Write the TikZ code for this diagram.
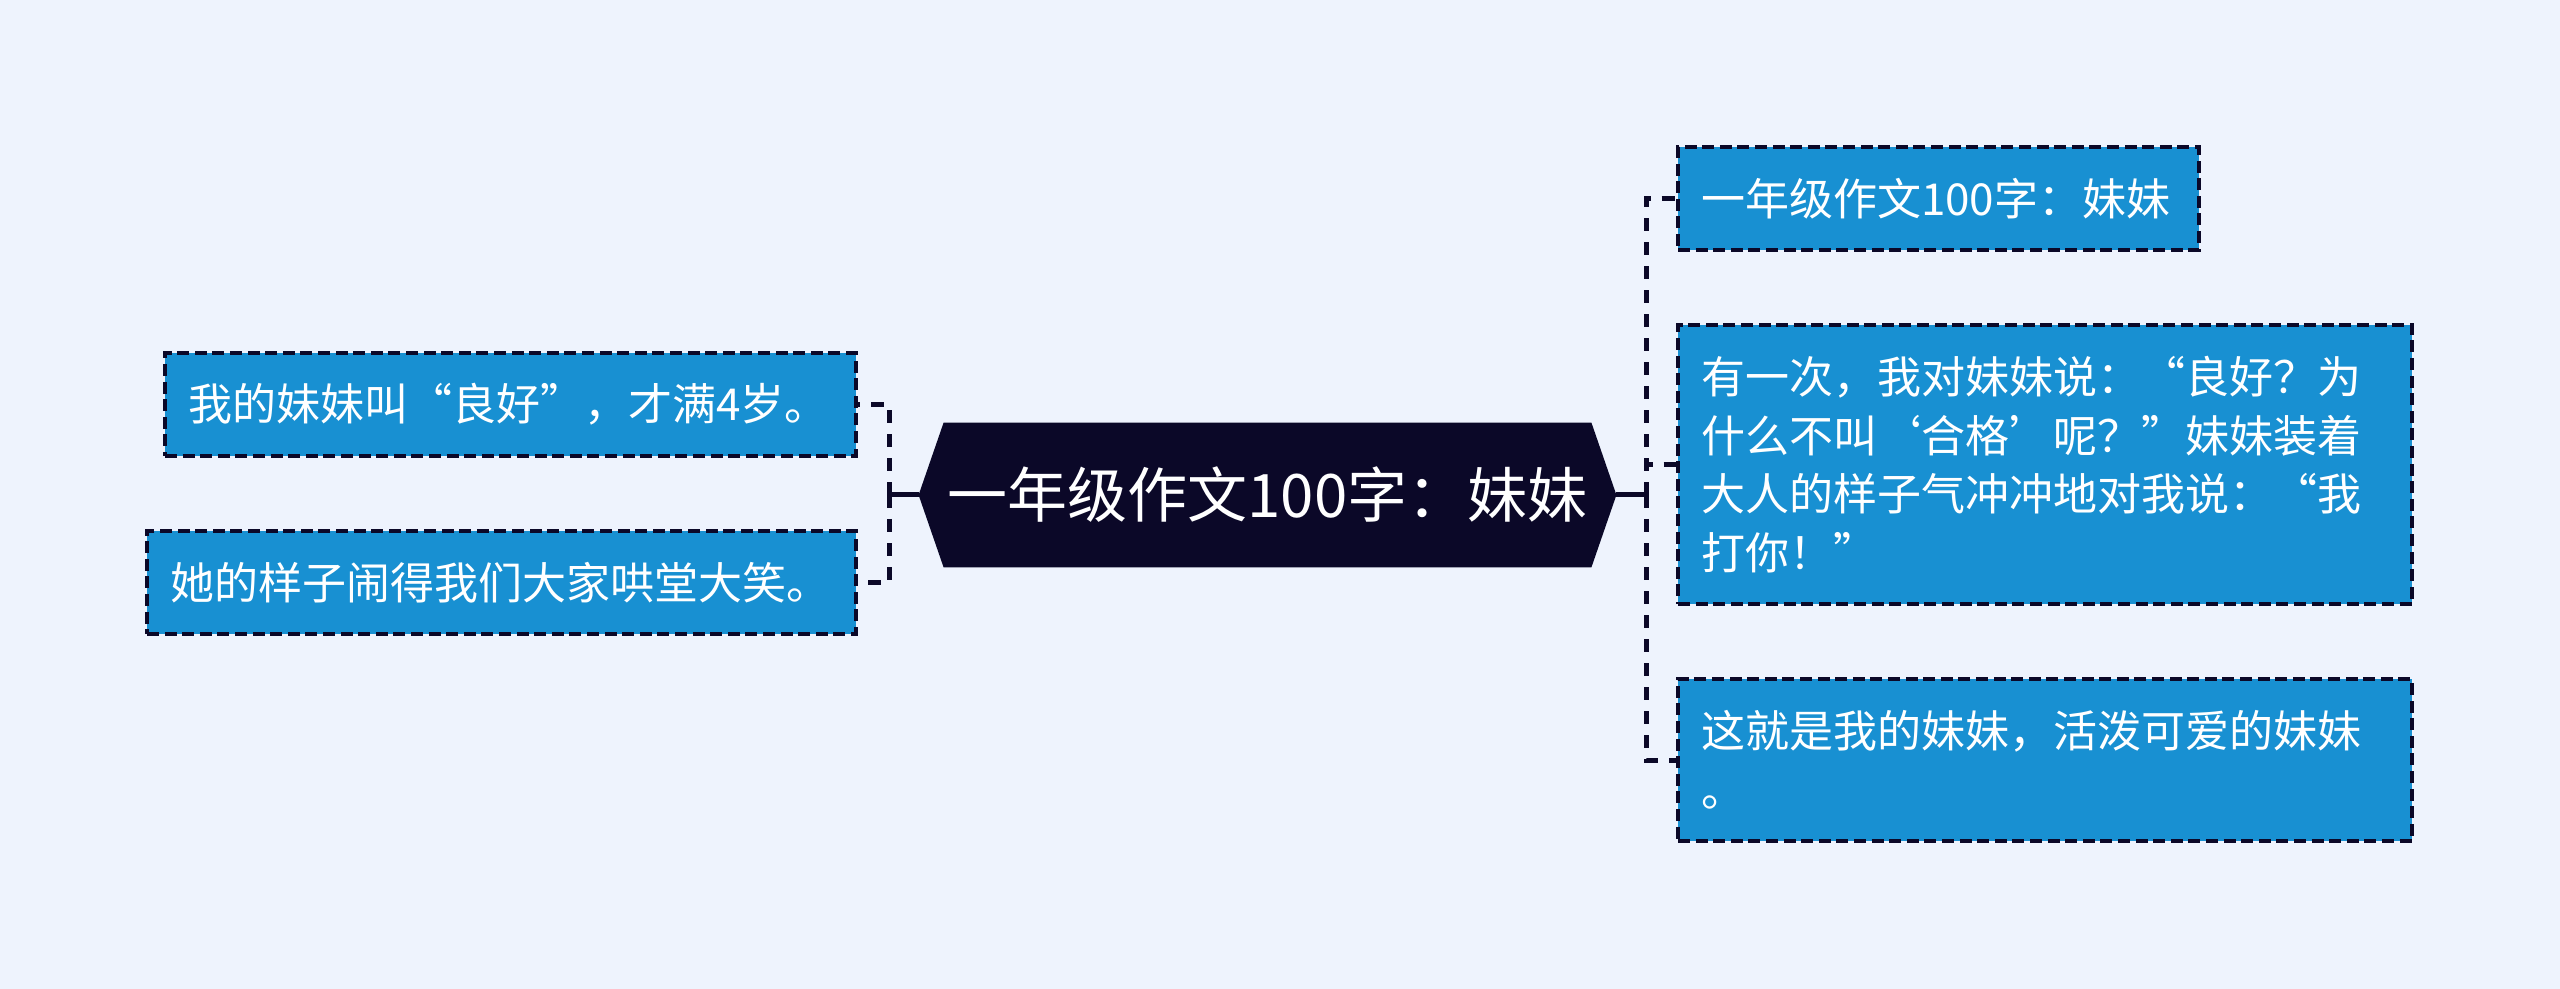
\documentclass[tikz,border=0pt]{standalone}
\usepackage{fontspec}
\setmainfont{Noto Sans CJK SC}
\usetikzlibrary{backgrounds}
\definecolor{bgc}{RGB}{238,243,253}
\definecolor{boxc}{RGB}{24,144,210}
\definecolor{navy}{RGB}{11,8,40}
\begin{document}
\begin{tikzpicture}[x=0.5pt,y=-0.5pt,
  leaf/.style={rectangle, fill=boxc, draw=navy, line width=1.7pt, dash pattern=on 6pt off 2.8pt,
    text=white, font=\fontsize{22}{29.35}\selectfont, align=left, inner xsep=11.5pt, inner ysep=0pt, anchor=center},
  conn/.style={draw=navy, line width=2.5pt, dash pattern=on 6.5pt off 5.5pt},
  solidc/.style={draw=navy, line width=2.5pt},
  centre/.style={rectangle, text=white, font=\fontsize{30}{36}\selectfont,
    minimum width=348.5pt, minimum height=72pt, inner sep=0pt},
  hexfill/.style={fill=navy}]
\useasboundingbox (0,0) rectangle (2560,989);

\node[centre] (c) at (1267.5,495) {一年级作文100字：妹妹};

\node[leaf, text width=322.5pt, minimum height=51.5pt] (l1) at (510.5,404.5) {我的妹妹叫“良好”，才满4岁。};
\node[leaf, text width=331.5pt, minimum height=51.5pt] (l2) at (501.5,582.5) {她的样子闹得我们大家哄堂大笑。};

\node[leaf, text width=237.5pt, minimum height=51.5pt] (r1) at (1938.5,198.5) {一年级作文100字：妹妹};
\node[leaf, text width=344pt, minimum height=139.5pt] (r2) at (2045,464.5) {有一次，我对妹妹说：“良好？为\\什么不叫‘合格’呢？”妹妹装着\\大人的样子气冲冲地对我说：“我\\打你！”};
\node[leaf, text width=344pt, minimum height=81pt] (r3) at (2045,760) {这就是我的妹妹，活泼可爱的妹妹\\。};

\coordinate (hl) at (889,495);
\coordinate (hr) at (1646,495);

\draw[solidc] (c.west) -- (hl);
\draw[conn] (hl) |- (l1.east);
\draw[conn] (hl) |- (l2.east);
\draw[solidc] (c.east) -- (hr);
\draw[conn] (hr) |- (r1.west);
\draw[conn] (hr) |- (r2.west);
\draw[conn] (hr) |- (r3.west);

\begin{scope}[on background layer]
\fill[bgc] (0,0) rectangle (2560,989);
\fill[hexfill] (c.west) -- ([xshift=12.5pt]c.north west) -- ([xshift=-12.5pt]c.north east) -- (c.east)
  -- ([xshift=-12.5pt]c.south east) -- ([xshift=12.5pt]c.south west) -- cycle;
\end{scope}
\end{tikzpicture}
\end{document}
